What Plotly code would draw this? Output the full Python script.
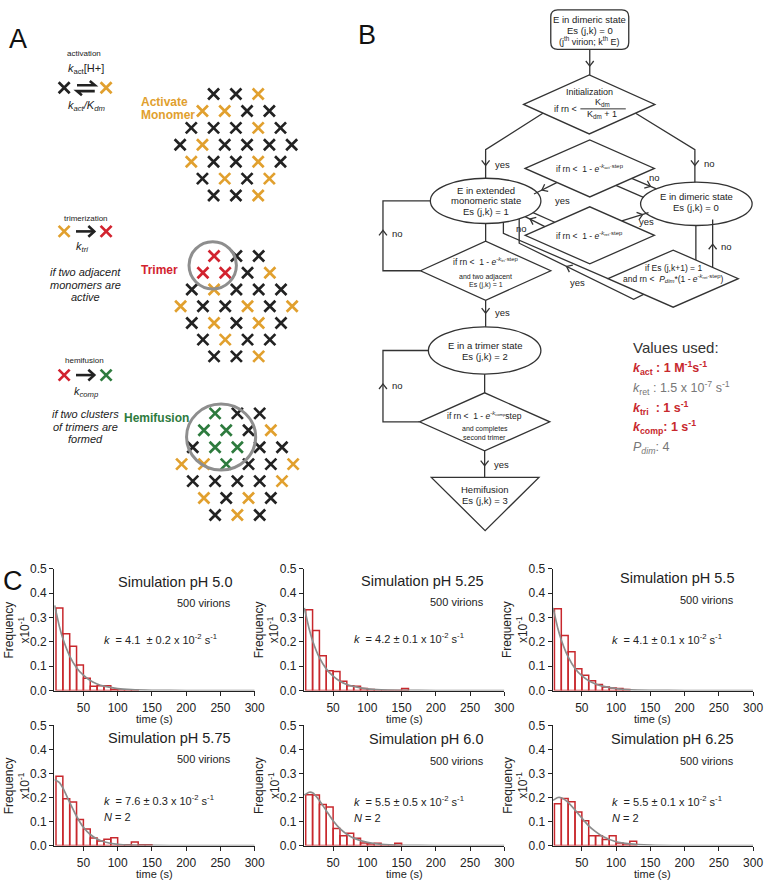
import math
import plotly.graph_objects as go

FONT = "Liberation Sans, Arial, Helvetica, sans-serif"
W, H = 772, 886
DARK = "#222222"
LINE = "#333333"
RED = "#C8282D"
GRAYC = "#8C8C8C"
ORANGE = "#E1A02E"
XRED = "#D2232F"
GREEN = "#2E7B3E"

# ---------------- Panel C data ----------------
ph_labels = ["5.0", "5.25", "5.5", "5.75", "6.0", "6.25"]
virions = 500
bin_left_edge = 10
bin_width = 10
freq_ph5_00 = [0.339, 0.234, 0.182, 0.105, 0.051, 0.018, 0.020, 0.020, 0.004, 0.002, 0.002, 0.001]
freq_ph5_25 = [0.332, 0.247, 0.143, 0.081, 0.078, 0.038, 0.020, 0.018, 0.008, 0.004, 0.002, 0, 0, 0, 0.008]
freq_ph5_50 = [0.336, 0.226, 0.160, 0.090, 0.063, 0.040, 0.025, 0.015, 0.010, 0.008, 0.004]
freq_ph5_75 = [0.289, 0.195, 0.181, 0.108, 0.069, 0.031, 0.019, 0.026, 0.032, 0.003, 0.003, 0.015, 0.003, 0.003]
freq_ph6_00 = [0.212, 0.210, 0.171, 0.160, 0.071, 0.041, 0.051, 0.030, 0.011, 0.007, 0.010, 0.003, 0, 0.010]
freq_ph6_25 = [0.174, 0.196, 0.182, 0.140, 0.103, 0.041, 0.041, 0.025, 0.041, 0.011, 0.007, 0.018]

fit_time = [8, 15, 20, 30, 40, 50, 60, 70, 80, 100, 120, 150, 200, 300]
fit_ph5_00 = [0.350, 0.263, 0.214, 0.142, 0.094, 0.063, 0.041, 0.027, 0.018, 0.008, 0.0035, 0.001, 0.0001, 0]
fit_ph5_25 = [0.340, 0.254, 0.205, 0.135, 0.089, 0.059, 0.038, 0.025, 0.017, 0.007, 0.003, 0.001, 0, 0]
fit_ph5_50 = [0.340, 0.255, 0.208, 0.138, 0.091, 0.061, 0.040, 0.027, 0.018, 0.008, 0.003, 0.001, 0, 0]
fit_ph5_75 = [0.275, 0.262, 0.240, 0.180, 0.122, 0.076, 0.046, 0.027, 0.016, 0.005, 0.0015, 0.0003, 0, 0]
fit_ph6_00 = [0.210, 0.222, 0.220, 0.188, 0.145, 0.103, 0.070, 0.047, 0.031, 0.013, 0.005, 0.001, 0, 0]
fit_ph6_25 = [0.188, 0.200, 0.199, 0.180, 0.148, 0.114, 0.082, 0.058, 0.039, 0.016, 0.007, 0.002, 0, 0]

rate_values = ["4.1  ± 0.2", "4.2 ± 0.1", "4.1 ± 0.1", "7.6 ± 0.3", "5.5 ± 0.5", "5.5 ± 0.1"]
n_steps = [None, None, None, 2, 2, 2]
x_ticks = [50, 100, 150, 200, 250, 300]
y_ticks = [0.0, 0.1, 0.2, 0.3, 0.4, 0.5]

# ---------------- Panel A lattice data (colour codes per row) ----------------
lattice_activate = ["KKO", "OOKK", "KKKOK", "KOKKKK", "OKKOK", "KOKO", "KKO"]
lattice_trimer = ["RKK", "RRKO", "KOKKK", "OKKOKO", "KOKOK", "KOKK", "KKO"]
lattice_hemi = ["GKK", "GGKO", "KGGKK", "OOGKKO", "KKKKO", "OKOK", "KOK"]
reaction_from = ["K", "O", "R"]
reaction_to = ["O", "R", "G"]
colour_of = {"K": DARK, "O": ORANGE, "R": XRED, "G": GREEN}

freqs = [freq_ph5_00, freq_ph5_25, freq_ph5_50, freq_ph5_75, freq_ph6_00, freq_ph6_25]
fits = [fit_ph5_00, fit_ph5_25, fit_ph5_50, fit_ph5_75, fit_ph6_00, fit_ph6_25]

fig = go.Figure()

# ---------------- layout geometry for panel C ----------------
left_px = [55, 308, 560, 55, 308, 560]
plot_w = 203
row_px = [(571, 694.5), (571, 694.5), (571, 694.5), (730, 852), (730, 852), (730, 852)]
title_pos = [(236, 584), (491, 583), (745, 580), (235, 743), (490, 744), (745, 744)]
vir_pos = [(235, 606), (491, 605), (745, 603), (235, 764), (491, 766), (745, 766)]
k_pos = [(104, 642), (358, 641), (619, 642), (104, 806), (358, 807), (619, 807)]
n_pos = [None, None, None, (104, 823), (358, 824), (619, 824)]

annots = []
shapes = []


def txt(x, y, text, size=9.5, color=DARK, xa="center", ya="middle", angle=0):
    annots.append(dict(x=x, y=y, xref="x7", yref="y7", text=text, showarrow=False,
                       font=dict(family=FONT, size=size, color=color),
                       xanchor=xa, yanchor=ya, textangle=angle, borderpad=0))


for i in range(6):
    n = i + 1
    xa = "x" if n == 1 else f"x{n}"
    ya = "y" if n == 1 else f"y{n}"
    centers = [bin_left_edge + bin_width * (j + 0.5) for j in range(len(freqs[i]))]
    fig.add_trace(go.Bar(x=centers, y=freqs[i], width=bin_width, xaxis=xa, yaxis=ya,
                         marker=dict(color="rgba(255,255,255,0)", line=dict(color=RED, width=1.5)),
                         showlegend=False, hoverinfo="skip"))
    fig.add_trace(go.Scatter(x=fit_time, y=fits[i], mode="lines", xaxis=xa, yaxis=ya,
                             line=dict(color=GRAYC, width=1.7, shape="spline", smoothing=0.5),
                             showlegend=False, hoverinfo="skip"))
    top, bot = row_px[i]
    l = left_px[i]
    xkey = "xaxis" if n == 1 else f"xaxis{n}"
    ykey = "yaxis" if n == 1 else f"yaxis{n}"
    fig.layout[xkey] = dict(domain=[l / W, (l + plot_w) / W], anchor=ya, range=[7.5, 300],
                            tickvals=x_ticks, ticks="outside", ticklen=4, tickwidth=1, tickcolor=DARK,
                            showline=True, linecolor=DARK, linewidth=1.8, showgrid=False, zeroline=False,
                            ticklabelstandoff=1,
                            tickfont=dict(family=FONT, size=12, color=DARK), fixedrange=True)
    fig.layout[ykey] = dict(domain=[1 - bot / H, 1 - top / H], anchor=xa, range=[0, 0.5],
                            tickvals=y_ticks, tickformat=".1f", ticks="outside", ticklen=4, tickwidth=1,
                            tickcolor=DARK, showline=True, linecolor=DARK, linewidth=1.2, showgrid=False,
                            zeroline=False, tickfont=dict(family=FONT, size=12, color=DARK), fixedrange=True)
    txt(title_pos[i][0], title_pos[i][1], f"Simulation pH {ph_labels[i]}", size=14.5, xa="right")
    txt(vir_pos[i][0], vir_pos[i][1], f"{virions} virions", size=11, xa="right")
    txt(k_pos[i][0], k_pos[i][1],
        f"<i>k</i>  = {rate_values[i]} x 10<sup>-2</sup> s<sup>-1</sup>", size=11, xa="left")
    if n_steps[i] is not None:
        txt(n_pos[i][0], n_pos[i][1], f"<i>N</i> = {n_steps[i]}", size=11, xa="left")
    txt(l - 38, (top + bot) / 2, "Frequency<br>x10<sup>-1</sup>", size=12, angle=-90)
    txt(l + plot_w / 2, bot + 28.5, "time (s)", size=11)

# ---------------- overlay axis in pixel coordinates for panels A and B ----------------
fig.layout["xaxis7"] = dict(domain=[0, 1], range=[0, W], visible=False, fixedrange=True, anchor="y7")
fig.layout["yaxis7"] = dict(domain=[0, 1], range=[H, 0], visible=False, fixedrange=True, anchor="x7")


def seg(points, width=1.3, color=LINE, close=False):
    d = "M " + " L ".join(f"{x:.2f},{y:.2f}" for x, y in points)
    if close:
        d += " Z"
    shapes.append(dict(type="path", path=d, xref="x7", yref="y7",
                       line=dict(color=color, width=width), layer="above"))


def ellipse(cx, cy, a, b, width=1.3, color=LINE):
    shapes.append(dict(type="circle", x0=cx - a, x1=cx + a, y0=cy - b, y1=cy + b,
                       xref="x7", yref="y7", line=dict(color=color, width=width)))


def diamond(cx, cy, hw, hh):
    seg([(cx - hw, cy), (cx, cy - hh), (cx + hw, cy), (cx, cy + hh)], close=True)


def vhead(x, y, dx, dy, L=6.5, ang=38):
    nrm = math.hypot(dx, dy)
    ux, uy = dx / nrm, dy / nrm
    pts = []
    for s in (1, -1):
        a = math.radians(s * ang)
        rx = ux * math.cos(a) - uy * math.sin(a)
        ry = ux * math.sin(a) + uy * math.cos(a)
        pts.append((x - L * rx, y - L * ry))
    seg([pts[0], (x, y), pts[1]], width=1.3)


# ----- Panel letters -----
txt(18, 33, "A", size=27, color="#111111")
txt(372, 28, "B", size=27, color="#111111")
txt(13, 583, "C", size=27, color="#111111")

# ----- Panel A: lattices -----
def lattice(rows, cx, cy, dx=22.6, dy=17.2):
    for colour in "KORG":
        xs, ys = [], []
        for r, row in enumerate(rows):
            nrow = len(row)
            for c, code in enumerate(row):
                if code == colour:
                    xs.append(cx + (c - (nrow - 1) / 2) * dx)
                    ys.append(cy + (r - 3) * dy)
        if xs:
            fig.add_trace(go.Scatter(x=xs, y=ys, mode="markers", xaxis="x7", yaxis="y7",
                                     marker=dict(symbol="x-thin", size=11,
                                                 line=dict(color=colour_of[colour], width=2.7)),
                                     showlegend=False, hoverinfo="skip"))


lattice(lattice_activate, 239, 140)
lattice(lattice_trimer, 239.5, 304, dy=17)
lattice(lattice_hemi, 240.5, 464.5)

react_y = [82, 228, 374]
for i in range(3):
    for code, x in ((reaction_from[i], 65), (reaction_to[i], 107.5)):
        fig.add_trace(go.Scatter(x=[x], y=[react_y[i]], mode="markers", xaxis="x7", yaxis="y7",
                                 marker=dict(symbol="x-thin", size=11,
                                             line=dict(color=colour_of[code], width=2.7)),
                                 showlegend=False, hoverinfo="skip"))

seg([(78, 79.5), (96, 79.5), (91, 75.3)], width=2.6, color=DARK)
seg([(96, 85.5), (78, 85.5), (83, 89.7)], width=2.6, color=DARK)
for yy in (228, 374):
    seg([(77, yy), (95, yy)], width=2.6, color=DARK)
    seg([(89.5, yy - 5.5), (95.5, yy), (89.5, yy + 5.5)], width=2.6, color=DARK)

ellipse(215.5, 262.5, 24, 24, width=3, color="#8E8E8E")
ellipse(224, 437, 35, 33.5, width=3, color="#8E8E8E")

txt(85, 47, "activation", size=8)
txt(87, 63, "<i>k</i><sub>act</sub>[H+]", size=11)
txt(88, 101, "<i>k</i><sub><i>act</i></sub><i>/K</i><sub><i>dm</i></sub>", size=11)
txt(142, 97, "<b>Activate</b>", size=12, color=ORANGE, xa="left")
txt(142, 110, "<b>Monomer</b>", size=12, color=ORANGE, xa="left")
txt(87, 215, "trimerization", size=8)
txt(83, 244, "<i>k</i><sub><i>tri</i></sub>", size=11)
txt(87, 269, "<i>if two adjacent</i>", size=11)
txt(87, 282, "<i>monomers are</i>", size=11)
txt(87, 294.5, "<i>active</i>", size=11)
txt(142, 267, "<b>Trimer</b>", size=12, color=XRED, xa="left")
txt(86, 359, "hemifusion", size=8)
txt(88, 391, "<i>k</i><sub><i>comp</i></sub>", size=11)
txt(87, 414, "<i>if two clusters</i>", size=11)
txt(87, 426.5, "<i>of trimers are</i>", size=11)
txt(87, 439, "<i>formed</i>", size=11)
txt(125, 418, "<b>Hemifusion</b>", size=12, color=GREEN, xa="left")

# ----- Panel B: flowchart -----
x0, x1, y0, y1, r = 558, 637, 3, 43, 7
shapes.append(dict(type="path", xref="x7", yref="y7", line=dict(color=LINE, width=1.3),
                   path=(f"M {x0+r},{y0} L {x1-r},{y0} Q {x1},{y0} {x1},{y0+r} L {x1},{y1-r} "
                         f"Q {x1},{y1} {x1-r},{y1} L {x0+r},{y1} Q {x0},{y1} {x0},{y1-r} "
                         f"L {x0},{y0+r} Q {x0},{y0} {x0+r},{y0} Z")))
txt(597.5, 12.5, "E in dimeric state", size=9.5)
txt(597.5, 24, "Es (j,k) = 0", size=9.5)
txt(597.5, 34.5, "(j<sup>th</sup> virion; k<sup>th</sup> E)", size=9)
seg([(597.5, 43), (597.5, 69)])
vhead(597.5, 60, 0, 1)

diamond(597, 99, 66.5, 30)
txt(597, 86, "Initialization", size=9)
txt(586, 103.5, "if rn <", size=9, xa="right")
seg([(588, 103.5), (634, 103.5)], width=1)
txt(610, 97, "K<sub>dm</sub>", size=9)
txt(610, 109.5, "K<sub>dm</sub> + 1", size=9)

seg([(550, 108), (492, 145), (492, 174)])
vhead(492, 161, 0, 1)
txt(500, 160, "yes", size=9.5, xa="left")
seg([(644, 108), (704, 145), (704, 178)])
vhead(704, 161, 0, 1)
txt(712, 159.5, "no", size=9.5, xa="left")

diamond(597.5, 164, 65.5, 29)
txt(597.5, 164, "if rn <  1 - <i>e</i><sup>-<i>k</i><sub>act</sub>·step</sup>", size=8.5)
diamond(597.5, 232, 65.5, 29)
txt(597.5, 232, "if rn <  1 - <i>e</i><sup>-<i>k</i><sub>ret</sub>·step</sup>", size=8.5)

ellipse(492, 197, 56, 23)
txt(492, 186, "E in extended", size=9.5)
txt(492, 197, "monomeric state", size=9.5)
txt(492, 208, "Es (j,k) = 1", size=9.5)
ellipse(705.5, 200, 56.5, 22)
txt(705.5, 193, "E in dimeric state", size=9.5)
txt(705.5, 204, "Es (j,k) = 0", size=9.5)

seg([(564, 178.5), (541, 190)])
vhead(549, 186, -1, 0.5)
txt(561, 197, "yes", size=9.5, xa="left")
seg([(624, 181.3), (652, 193.5)])
seg([(640, 174.2), (665, 184.8)])
vhead(659, 182.3, 1, 0.43)
txt(656, 173.5, "no", size=9.5, xa="left")
seg([(540, 209), (562, 218.7)])
seg([(532, 213), (552, 223.1)])
vhead(537, 215.3, -1, -0.46)
txt(522, 225, "no", size=9.5, xa="left")
seg([(630, 217.4), (657, 209)])
vhead(651, 210.9, 1, -0.31)
txt(646, 218, "yes", size=9.5, xa="left")

seg([(492, 220), (492, 238)])
diamond(492, 268, 66, 30)
txt(492, 259, "if rn <  1 - <i>e</i><sup>-<i>k</i><sub>tri</sub>·step</sup>", size=8.5)
txt(492, 274, "and two adjacent", size=7)
txt(492, 282, "Es (j,k) = 1", size=7)
seg([(426, 268), (388, 268), (388, 197), (436, 197)])
vhead(388, 227, 0, -1)
txt(396, 230, "no", size=9.5, xa="left")

diamond(682, 276, 66, 29)
txt(682, 265, "if Es (j,k+1) = 1", size=8.5)
txt(682, 276, "and rn <  <i>P</i><sub><i>dim</i></sub>*(1 - <i>e</i><sup>-<i>k</i><sub>ret</sub>·step</sup>)", size=8.5)
seg([(510, 218.8), (510, 230), (616, 276)])
seg([(652, 292), (642, 297), (526, 240), (526, 215.3)])
vhead(574, 263.5, -1, -0.49)
txt(576, 280, "yes", size=9.5, xa="left")
seg([(705, 222), (705, 257)])
seg([(722, 264.6), (722, 216)])
vhead(722, 241, 0, -1)
txt(729, 243.5, "no", size=9.5, xa="left")

seg([(492, 298), (492, 325)])
vhead(492, 311, 0, 1)
txt(500, 310, "yes", size=9.5, xa="left")
ellipse(491, 349, 57, 24)
txt(491, 344, "E in a trimer state", size=9.5)
txt(491, 355.5, "Es (j,k) = 2", size=9.5)
seg([(491, 373), (491, 392)])

diamond(491, 421.5, 66, 29.5)
txt(491, 415, "if rn <  1 - <i>e</i><sup>-<i>k</i><sub>comp</sub></sup>step", size=8.5)
txt(491, 429, "and completes", size=7)
txt(491, 437, "second trimer", size=7)
seg([(425, 421.5), (388, 421.5), (388, 349), (434, 349)])
vhead(388, 383, 0, -1)
txt(396, 385, "no", size=9.5, xa="left")
seg([(491, 451), (491, 478)])
vhead(491, 466, 0, 1)
txt(499, 465, "yes", size=9.5, xa="left")

seg([(437, 478), (546, 478), (491.5, 532)], close=True)
txt(491, 490, "Hemifusion", size=9.5)
txt(491, 501, "Es (j,k) = 3", size=9.5)

txt(640, 346, "Values used:", size=15, color="#333333", xa="left")
txt(640, 367, "<b><i>k</i><sub>act</sub> : 1 M<sup>-1</sup>s<sup>-1</sup></b>", size=12.5, color=RED, xa="left")
txt(640, 387, "<i>k</i><sub>ret</sub> : 1.5 x 10<sup>-7</sup> s<sup>-1</sup>", size=12.5, color="#777777", xa="left")
txt(640, 407, "<b><i>k</i><sub>tri</sub>  : 1 s<sup>-1</sup></b>", size=12.5, color=RED, xa="left")
txt(640, 427, "<b><i>k</i><sub>comp</sub>: 1 s<sup>-1</sup></b>", size=12.5, color=RED, xa="left")
txt(640, 448, "<i>P</i><sub><i>dim</i></sub>: 4", size=12.5, color="#777777", xa="left")

fig.update_layout(width=W, height=H, margin=dict(l=0, r=0, t=0, b=0),
                  paper_bgcolor="white", plot_bgcolor="rgba(0,0,0,0)",
                  annotations=annots, shapes=shapes, showlegend=False, bargap=0,
                  font=dict(family=FONT, color=DARK))

fig.write_html("out.html", config={"displayModeBar": False, "staticPlot": True},
               post_script="document.body.style.margin='0';")
